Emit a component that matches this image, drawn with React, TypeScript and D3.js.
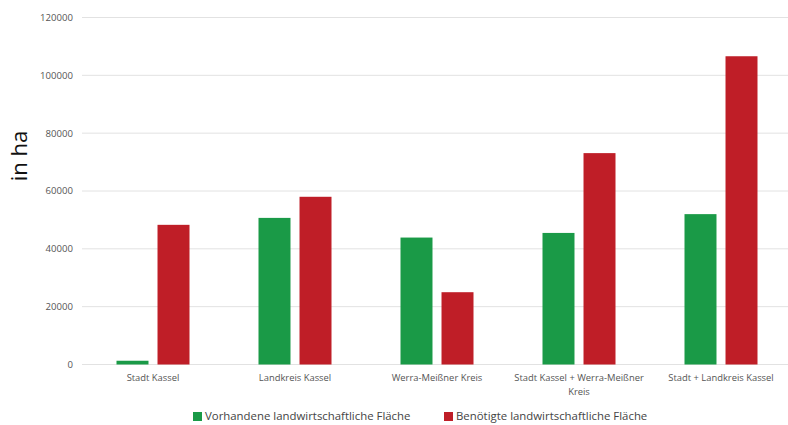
import React from 'react';
import * as d3 from 'd3';

const categories = [
  ['Stadt Kassel'],
  ['Landkreis Kassel'],
  ['Werra-Meißner Kreis'],
  ['Stadt Kassel + Werra-Meißner', 'Kreis'],
  ['Stadt + Landkreis Kassel'],
];
const seriesNames = ['Vorhandene landwirtschaftliche Fläche', 'Benötigte landwirtschaftliche Fläche'];
const vorhanden = [1300, 50700, 43900, 45500, 52000];
const benoetigt = [48300, 58000, 25000, 73100, 106600];
const yTicks = [0, 20000, 40000, 60000, 80000, 100000, 120000];
const colors = ['#1a9a47', '#bf1e27'];

const W = 788;
const H = 425;

const App = () => {
  const keys = categories.map(c => c.join(' '));
  const x = d3.scaleBand().domain(keys).range([82, 792]).padding(0);
  const y = d3.scaleLinear().domain([0, 120000]).range([364.5, 17.5]);
  const values = [vorhanden, benoetigt];

  return (
    <svg width={W} height={H} style={{ position: 'absolute', left: 0, top: 0, fontFamily: '"Open Sans", sans-serif' }}>
      <rect width={W} height={H} fill="#fff" />
      {yTicks.map(t => (
        <g key={t}>
          <line x1={82} x2={W} y1={y(t)} y2={y(t)} stroke="#e2e2e2" strokeWidth={1} />
          <text x={73} y={y(t)} dy="0.35em" textAnchor="end" fontSize={9.6} fill="#555">{t}</text>
        </g>
      ))}
      <text transform={`translate(27,156) rotate(-90)`} textAnchor="middle" fontSize={22} fill="#111">in ha</text>
      {keys.map((k, i) => {
        const cx = x(k)! + x.bandwidth() / 2;
        const inner = d3.scaleBand<number>().domain([0, 1]).range([cx - 36.5, cx + 36.5]).paddingInner(0.22).paddingOuter(0);
        return (
          <g key={k}>
            {values.map((vals, s) => (
              <rect key={s} x={inner(s)} width={inner.bandwidth()} y={y(vals[i])} height={y(0) - y(vals[i])} fill={colors[s]} />
            ))}
            {categories[i].map((line, j) => (
              <text key={j} x={cx} y={378 + j * 13.5} dy="0.35em" textAnchor="middle" fontSize={9.4} fill="#555">{line}</text>
            ))}
          </g>
        );
      })}
      <g>
        <rect x={193} y={412} width={9} height={9} fill={colors[0]} />
        <text x={205} y={416.5} dy="0.35em" fontSize={11.4} fill="#444">{seriesNames[0]}</text>
        <rect x={444} y={412} width={9} height={9} fill={colors[1]} />
        <text x={456} y={416.5} dy="0.35em" fontSize={11.4} fill="#444">{seriesNames[1]}</text>
      </g>
    </svg>
  );
};

export default App;
